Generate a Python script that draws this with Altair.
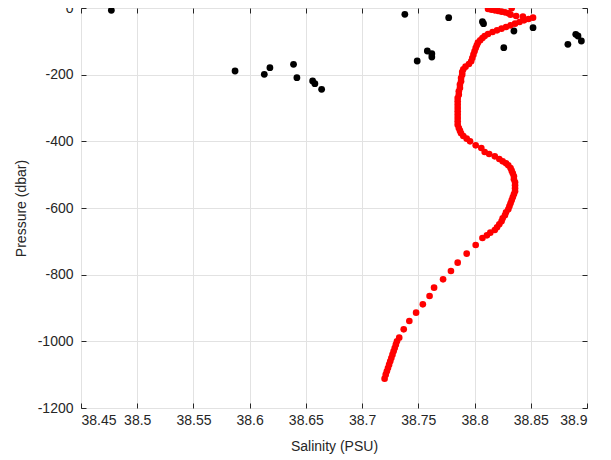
import altair as alt
import pandas as pd

TITLE = "Float 6901970 - profile 1 (27-Jul-2016) vs nearest (in time) ctd (24-Apr-2016)"

# CTD profile (black dots)
ctd_salinity = [38.477, 38.738, 38.777, 38.807, 38.808, 38.852, 38.835, 38.890,
                38.892, 38.895, 38.883, 38.826, 38.758, 38.762, 38.762, 38.749,
                38.639, 38.618, 38.587, 38.613, 38.642, 38.656, 38.658, 38.664]
ctd_pressure = [-7, -19, -29, -41, -47, -59, -69, -79,
                -84, -99, -109, -119, -129, -137, -147, -159,
                -169, -179, -189, -199, -209, -219, -227, -244]

# Float profile (red dots)
float_salinity = [
    38.833, 38.812, 38.815, 38.818, 38.821, 38.824, 38.827, 38.830, 38.832, 38.837, 38.843, 38.852,
    38.848, 38.844, 38.840, 38.836, 38.832, 38.828, 38.824, 38.820, 38.816, 38.812,
    38.809, 38.807, 38.805, 38.803, 38.802, 38.801, 38.800, 38.799, 38.798, 38.797,
    38.795, 38.792, 38.790, 38.789, 38.789, 38.788, 38.788, 38.787, 38.787, 38.786,
    38.786, 38.785, 38.785, 38.785, 38.785, 38.785, 38.785, 38.785, 38.785, 38.785,
    38.786, 38.787, 38.788, 38.790, 38.793, 38.796,
    38.801, 38.806, 38.809, 38.813, 38.818, 38.822, 38.825, 38.828, 38.830, 38.832,
    38.833, 38.834, 38.835, 38.835, 38.836, 38.836, 38.836, 38.836, 38.835, 38.834,
    38.833, 38.832, 38.831, 38.830, 38.828, 38.827, 38.825, 38.824, 38.822, 38.820,
    38.818, 38.814, 38.811, 38.807, 38.801, 38.793, 38.785, 38.779, 38.772, 38.764,
    38.760, 38.754, 38.748, 38.742, 38.737, 38.733, 38.731, 38.730, 38.729, 38.728,
    38.727, 38.726, 38.725, 38.724, 38.723, 38.722, 38.721, 38.720,
]
float_pressure = [
    -1, -3, -5, -7, -9, -11, -13, -16, -20, -24, -26, -29,
    -33, -37, -42, -47, -52, -57, -62, -67, -72, -78,
    -84, -90, -97, -104, -112, -120, -130, -140, -150, -160,
    -168, -176, -184, -192, -200, -210, -220, -230, -240, -250,
    -260, -270, -280, -290, -300, -310, -320, -330, -340, -350,
    -360, -368, -376, -384, -392, -400,
    -412, -420, -432, -438, -445, -453, -460, -466, -472, -480,
    -488, -496, -505, -514, -523, -532, -541, -550, -559, -568,
    -577, -586, -595, -604, -613, -622, -631, -640, -649, -658,
    -666, -674, -682, -690, -711, -737, -764, -789, -814, -839,
    -864, -889, -914, -939, -964, -989, -1000, -1010, -1020, -1030,
    -1040, -1050, -1060, -1070, -1080, -1090, -1100, -1112,
]
assert len(float_salinity) == len(float_pressure)
assert len(ctd_salinity) == len(ctd_pressure)

x_ticks = [38.45, 38.5, 38.55, 38.6, 38.65, 38.7, 38.75, 38.8, 38.85, 38.9]
y_ticks = [-1200, -1000, -800, -600, -400, -200, 0]

ctd = pd.DataFrame({"S": ctd_salinity, "P": ctd_pressure})
flt = pd.DataFrame({"S": float_salinity, "P": float_pressure})

W, H = 506, 400
FONT = "Liberation Sans"
AX = "#262626"
GRID = "#e2e2e2"

xscale = alt.Scale(domain=[38.45, 38.9], nice=False, zero=False)
yscale = alt.Scale(domain=[-1200, 0], nice=False, zero=False)
LBL = "'' + datum.value"

# main axes: labels, titles, grid
x_main = alt.Axis(orient="bottom", values=x_ticks, labelExpr=LBL, title="Salinity (PSU)",
                  grid=True, gridColor=GRID, gridWidth=1, ticks=False, tickSize=0, domain=False,
                  labelFont=FONT, labelFontSize=14, labelColor=AX, labelPadding=5,
                  titleFont=FONT, titleFontSize=14, titleFontWeight="normal", titleColor=AX,
                  titlePadding=12)
y_main = alt.Axis(orient="left", values=y_ticks, labelExpr=LBL, title="Pressure (dbar)",
                  grid=True, gridColor=GRID, gridWidth=1, ticks=False, tickSize=0, domain=False,
                  labelFont=FONT, labelFontSize=14, labelColor=AX, labelPadding=8,
                  titleFont=FONT, titleFontSize=14, titleFontWeight="normal", titleColor=AX,
                  titlePadding=9)

def tick_axis(orient, values, offset):
    return alt.Axis(orient=orient, values=values, offset=offset, labels=False, title=None,
                    grid=False, domain=False, ticks=True, tickSize=5, tickColor=AX, tickWidth=1)

black = alt.Chart(ctd).mark_circle(size=46, color="#000000", opacity=1).encode(
    x=alt.X("S:Q", scale=xscale, axis=x_main),
    y=alt.Y("P:Q", scale=yscale, axis=y_main),
)

# inner ticks along bottom and left edges
red = alt.Chart(flt).mark_circle(size=44, color="#ff0000", opacity=1).encode(
    x=alt.X("S:Q", scale=xscale, axis=tick_axis("top", x_ticks, -H)),
    y=alt.Y("P:Q", scale=yscale, axis=tick_axis("right", y_ticks, -W)),
)

# inner ticks along top and right edges
ghost = alt.Chart(ctd).mark_circle(size=1, opacity=0).encode(
    x=alt.X("S:Q", scale=xscale, axis=tick_axis("bottom", x_ticks, -H)),
    y=alt.Y("P:Q", scale=yscale, axis=tick_axis("left", y_ticks, -W)),
)

chart = alt.layer(black, red, ghost).resolve_axis(
    x="independent", y="independent"
).properties(
    width=W, height=H,
    title=alt.Title(TITLE, font=FONT, fontSize=15, fontWeight="bold", color="#000000",
                    anchor="middle", offset=1),
    autosize=alt.AutoSizeParams(type="none"),
    padding={"left": 73, "top": 0, "right": 16, "bottom": 50},
).configure_view(stroke=AX, strokeWidth=1)

chart.save("out.html", embed_options={"renderer": "svg", "actions": False})
